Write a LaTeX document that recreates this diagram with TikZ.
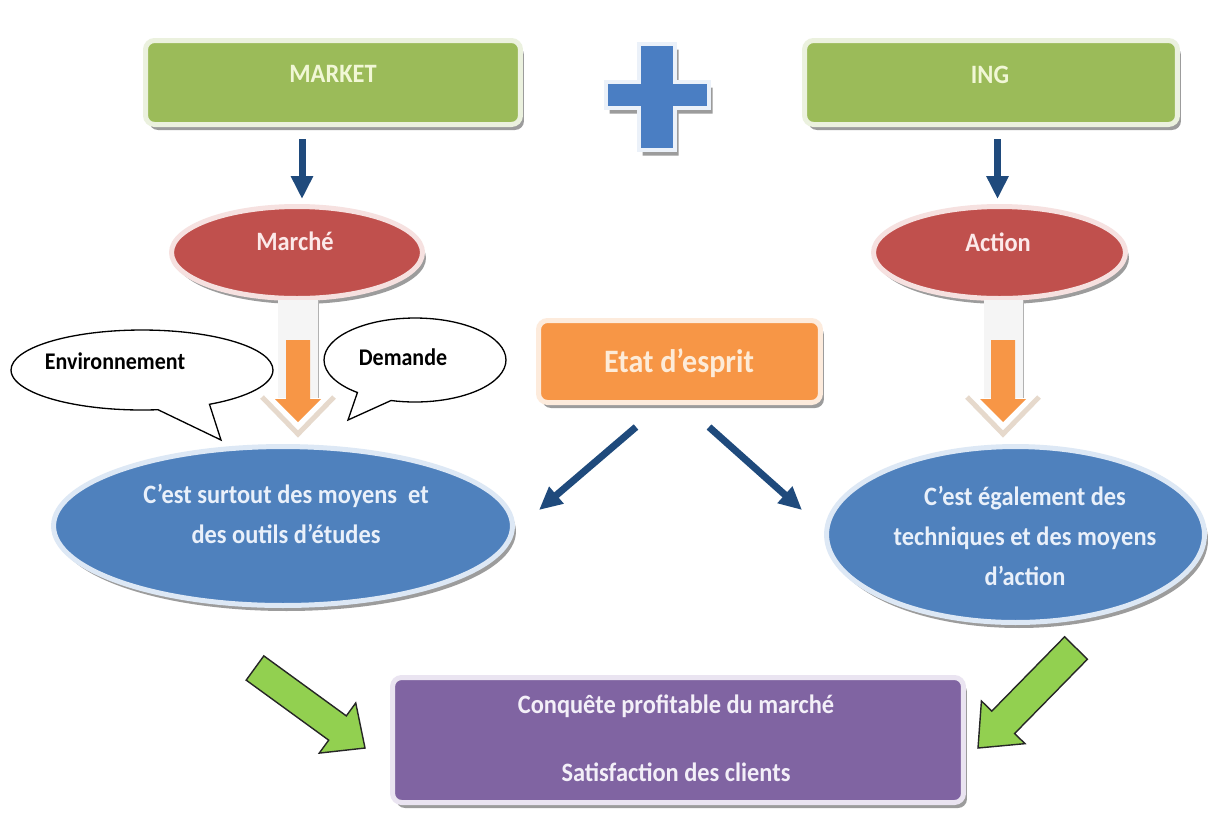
\documentclass[tikz,border=0pt]{standalone}
\usepackage{fontspec}
\setmainfont[FakeStretch=0.92]{Carlito}
\usetikzlibrary{calc,shadows,arrows.meta,shapes.callouts,shapes.geometric}

\definecolor{boxgreen}{HTML}{9BBB59}
\definecolor{rimgreen}{HTML}{EBF1DE}
\definecolor{txtgreen}{HTML}{F1F7D6}
\definecolor{ellred}{HTML}{C0504D}
\definecolor{rimred}{HTML}{F6E1E0}
\definecolor{txtred}{HTML}{FCE9E9}
\definecolor{ellblue}{HTML}{4F81BD}
\definecolor{rimblue}{HTML}{DDE8F5}
\definecolor{txtblue}{HTML}{E9F0FA}
\definecolor{boxorange}{HTML}{F79646}
\definecolor{rimorange}{HTML}{FDEBDC}
\definecolor{txtorange}{HTML}{FDEBD8}
\definecolor{boxpurple}{HTML}{8064A2}
\definecolor{rimpurple}{HTML}{EAE4F1}
\definecolor{txtpurple}{HTML}{F3EFF8}
\definecolor{navy}{HTML}{1F4A7C}
\definecolor{plusblue}{HTML}{4A7EC3}
\definecolor{arrgreen}{HTML}{92D050}
\definecolor{arrorange}{HTML}{F79646}
\definecolor{chevron}{HTML}{E6D9CC}
\definecolor{shadowgray}{HTML}{9C9C9C}

% block arrow: #1 style, #2 tail coordinate, #3 tip coordinate,
% #4 half shaft width, #5 half head width, #6 head length
\newcommand\blockarrow[6]{%
  \coordinate (#2-h) at ($(#3)!#6!(#2)$);
  \path[#1] ($(#2)!#4!90:(#3)$) -- ($(#2-h)!#4!-90:(#2)$) -- ($(#2-h)!#5!-90:(#2)$)
    -- (#3) -- ($(#2-h)!#5!90:(#2)$) -- ($(#2-h)!#4!90:(#2)$)
    -- ($(#2)!#4!-90:(#3)$) -- cycle;}

\tikzset{
  softshadow/.style={drop shadow={shadow xshift=0.07cm, shadow yshift=-0.11cm, fill=shadowgray, opacity=1}},
  panel/.style={rectangle, rounded corners=0.18cm, line width=0.1cm, inner sep=0pt, softshadow},
  oval/.style={ellipse, line width=0.1cm, inner sep=0pt, softshadow},
  lbl/.style={anchor=base, inner sep=0pt, font=\bfseries\fontsize{15.1}{18}\selectfont},
  bubbletxt/.style={anchor=base, inner sep=0pt, text=black, font=\bfseries\fontsize{13.6}{16}\selectfont},
  bubble/.style={ellipse callout, draw=black, fill=white, line width=0.75pt, inner sep=0pt, callout pointer arc=24},
  navyarr/.style={draw=navy, line width=0.14cm, -{Triangle[width=0.42cm,length=0.46cm]}},
  greenblock/.style={fill=arrgreen, draw=black!85, line width=0.8pt, line join=miter},
  orangeblock/.style={fill=arrorange, draw=none},
  column/.style={fill=black!4, draw=none},
}

\begin{document}
\begin{tikzpicture}[x=0.02cm, y=-0.02cm]
\useasboundingbox[fill=white] (0,0) rectangle (1212,823);

% top boxes
\node[panel, fill=boxgreen, draw=rimgreen, minimum width=7.5cm, minimum height=1.68cm] (market) at (333,82.5) {};
\node[panel, fill=boxgreen, draw=rimgreen, minimum width=7.46cm, minimum height=1.68cm] (ing) at (991,82.5) {};
\node[lbl, text=txtgreen] (marketT) at (333,82) {MARKET};
\node[lbl, text=txtgreen] (ingT) at (990,83) {ING};

% plus sign between the two boxes
\draw[fill=plusblue, draw=rimblue!60!white, line width=0.09cm, softshadow]
  (639,44) -- (675,44) -- (675,82) -- (709,82) -- (709,108) -- (675,108) -- (675,150)
  -- (639,150) -- (639,108) -- (606,108) -- (606,82) -- (639,82) -- cycle;

% red ellipses
\node[oval, fill=ellred, draw=rimred, minimum width=5.02cm, minimum height=1.84cm] (marche) at (297,252.5) {};
\node[oval, fill=ellred, draw=rimred, minimum width=5.04cm, minimum height=1.84cm] (action) at (999.5,252.5) {};
\node[lbl, text=txtred] (marcheT) at (295,250) {Marché};
\node[lbl, text=txtred] (actionT) at (998,251) {Action};

% navy arrows from the boxes to the ellipses
\draw[navyarr] ($(marche.north |- market.south)+(5,12)$) -- ($(marche.north)+(5,-5)$);
\draw[navyarr] ($(action.north |- ing.south)+(-2,12)$) -- ($(action.north)+(-2,-5)$);

% speech bubbles
\node[bubble, minimum width=5.24cm, minimum height=1.6cm, callout absolute pointer={(221,440)}] (envb) at (142,370) {};
\node[bubble, minimum width=3.64cm, minimum height=1.68cm, callout absolute pointer={(348,420)}] (demb) at (415,360) {};
\node[bubbletxt] (envT) at (115,369) {Environnement};
\node[bubbletxt] (demT) at (403,365) {Demande};

% orange down arrows with their pale backing
\fill[column] (278,300) rectangle (318,398);
\draw[black!30, line width=0.4pt] (318,300) -- (318,398);
\draw[chevron, line width=0.1cm, line join=miter] (262,397) -- (298,434) -- (334,397);
\coordinate (oLa) at (298,340);
\coordinate (oLb) at (298,422);
\blockarrow{orangeblock}{oLa}{oLb}{0.24cm}{0.46cm}{0.46cm}

\fill[column] (984,300) rectangle (1023,398);
\draw[black!30, line width=0.4pt] (1023,300) -- (1023,398);
\draw[chevron, line width=0.1cm, line join=miter] (967,397) -- (1003,434) -- (1039,397);
\coordinate (oRa) at (1003,340);
\coordinate (oRb) at (1003,422);
\blockarrow{orangeblock}{oRa}{oRb}{0.24cm}{0.46cm}{0.46cm}

% central box
\node[panel, fill=boxorange, draw=rimorange, minimum width=5.64cm, minimum height=1.64cm] (etat) at (679.5,361.5) {};
\node[anchor=base, inner sep=0pt, text=txtorange, font=\bfseries\fontsize{18.6}{22}\selectfont] (etatT) at (679,372) {Etat d’esprit};

% diagonal arrows
\coordinate (dl0) at (636,427);
\coordinate (dl1) at (539,510);
\coordinate (dr0) at (709,427);
\coordinate (dr1) at (802,510);
\draw[navyarr] (dl0) -- (dl1);
\draw[navyarr] (dr0) -- (dr1);

% blue ellipses
\node[oval, fill=ellblue, draw=rimblue, minimum width=9.18cm, minimum height=3.18cm] (study) at (283,526) {};
\node[oval, fill=ellblue, draw=rimblue, minimum width=7.56cm, minimum height=3.52cm] (tech) at (1015.5,534.5) {};
\node[lbl, text=txtblue] (studyA) at (286,503) {C’est surtout des moyens\ \ et};
\node[lbl, text=txtblue] (studyB) at (286,543) {des outils d’études};
\node[lbl, text=txtblue] (techA) at (1025,505) {C’est également des};
\node[lbl, text=txtblue] (techB) at (1025,545) {techniques et des moyens};
\node[lbl, text=txtblue] (techC) at (1025,585) {d’action};

% result box
\node[panel, fill=boxpurple, draw=rimpurple, minimum width=11.42cm, minimum height=2.5cm] (goal) at (678,740) {};
\node[lbl, text=txtpurple] (goalA) at (676,713) {Conquête profitable du marché};
\node[lbl, text=txtpurple] (goalB) at (676,781) {Satisfaction des clients};

% green block arrows towards the result
\coordinate (gLa) at (255,668);
\coordinate (gLb) at (365,748);
\blockarrow{greenblock}{gLa}{gLb}{0.3cm}{0.62cm}{0.68cm}
\coordinate (gRa) at (1076,648);
\coordinate (gRb) at (978,748);
\blockarrow{greenblock}{gRa}{gRb}{0.32cm}{0.61cm}{0.72cm}
\end{tikzpicture}
\end{document}
